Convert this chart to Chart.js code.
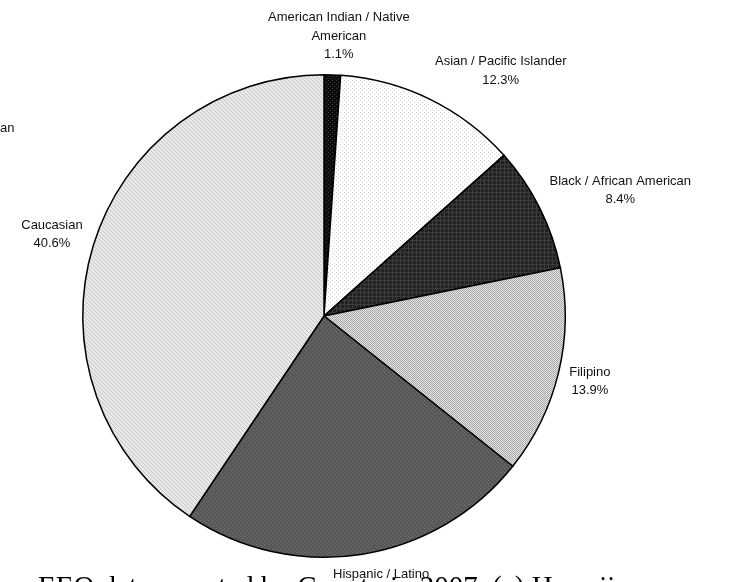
<!DOCTYPE html>
<html>
<head>
<meta charset="utf-8">
<script src="https://cdn.jsdelivr.net/npm/chart.js@4.4.0/dist/chart.umd.min.js"></script>
<style>
  html, body { margin: 0; padding: 0; background: #fff; }
  #wrap { width: 729px; height: 582px; position: relative; }
</style>
</head>
<body>
<div id="wrap"><canvas id="chart" width="729" height="582"></canvas></div>
<script>
// ethnic breakdown, percent of workforce
var categories = ['American Indian / Native\nAmerican', 'Asian / Pacific Islander', 'Black / African American', 'Filipino', 'Hispanic / Latino', 'Caucasian'];
var shares = [1.1, 12.3, 8.4, 13.9, 23.7, 40.6];
var caption = 'EEO data reported by County in 2007. (a) Hawaii';
var strayLabel = 'an';

// small tiles so each slice gets a textured grey fill
function makePattern(bg, fg, kind) {
    var c = document.createElement('canvas');
    c.width = 4; c.height = 4;
    var g = c.getContext('2d');
    g.fillStyle = bg;
    g.fillRect(0, 0, 4, 4);
    g.fillStyle = fg;
    if (kind == 'dots') {
        g.fillRect(0, 0, 1, 1);
        g.fillRect(2, 2, 1, 1);
    } else if (kind == 'check') {
        g.fillRect(0, 0, 1, 1); g.fillRect(2, 0, 1, 1);
        g.fillRect(1, 1, 1, 1); g.fillRect(3, 1, 1, 1);
        g.fillRect(0, 2, 1, 1); g.fillRect(2, 2, 1, 1);
        g.fillRect(1, 3, 1, 1); g.fillRect(3, 3, 1, 1);
    } else if (kind == 'diag') {
        g.fillRect(0, 0, 1, 1); g.fillRect(1, 1, 1, 1);
        g.fillRect(2, 2, 1, 1); g.fillRect(3, 3, 1, 1);
    } else if (kind == 'grid') {
        g.fillRect(0, 0, 4, 1);
        g.fillRect(0, 0, 1, 4);
    }
    return g.createPattern(c, 'repeat');
}

var fills = [
    makePattern('#0d0d0d', '#3a3a3a', 'dots'),
    makePattern('#ffffff', '#d6d6d6', 'dots'),
    makePattern('#222222', '#3c3c3c', 'grid'),
    makePattern('#e2e2e2', '#aaaaaa', 'check'),
    makePattern('#585858', '#747474', 'dots'),
    makePattern('#e8e8e8', '#c8c8c8', 'diag')
];

var labelFont = '13px Arial, "Liberation Sans", sans-serif';
var lineH = 18.5;

function clamp(v) { return Math.max(-1, Math.min(1, v)); }

var pieLabels = {
    id: 'pieLabels',
    afterDatasetsDraw: function(chart) {
        var ctx = chart.ctx;
        ctx.save();

        // caption running under the pie
        ctx.fillStyle = '#000';
        ctx.font = '29px "Times New Roman", "Liberation Serif", serif';
        ctx.textAlign = 'left';
        ctx.textBaseline = 'alphabetic';
        ctx.fillText(caption, 38, 596);

        ctx.fillStyle = '#111';
        ctx.font = labelFont;
        ctx.fillText(strayLabel, 0, 132);

        ctx.textAlign = 'center';
        ctx.textBaseline = 'middle';
        var arcs = chart.getDatasetMeta(0).data;
        arcs.forEach(function(arc, i) {
            var p = arc.getProps(['x', 'y', 'startAngle', 'endAngle', 'outerRadius'], true);
            var mid = (p.startAngle + p.endAngle) / 2;
            var dx = Math.cos(mid), dy = Math.sin(mid);
            var lines = categories[i].split('\n');
            lines.push(shares[i].toFixed(1) + '%');
            var w = 0;
            lines.forEach(function(t) { w = Math.max(w, ctx.measureText(t).width); });
            var h = lines.length * lineH;
            var r = p.outerRadius + 11;
            var bx = p.x + r * dx + (w / 2) * clamp(2.5 * dx);
            var by = p.y + r * dy + (h / 2) * clamp(1.5 * dy);
            var top = by - h / 2;
            lines.forEach(function(t, k) {
                ctx.fillText(t, bx, top + lineH * (k + 0.5));
            });
        });
        ctx.restore();
    }
};

var ctx = document.getElementById('chart').getContext('2d');
var chart = new Chart(ctx, {
    type: 'pie',
    data: {
        labels: categories,
        datasets: [{
            data: shares,
            backgroundColor: fills,
            borderColor: '#000',
            borderWidth: 1.5,
            borderJoinStyle: 'miter'
        }]
    },
    options: {
        responsive: false,
        animation: false,
        layout: {
            padding: { left: 82, right: 163, top: 74, bottom: 24 }
        },
        plugins: {
            legend: { display: false },
            tooltip: { enabled: false }
        }
    },
    plugins: [pieLabels]
});
</script>
</body>
</html>
